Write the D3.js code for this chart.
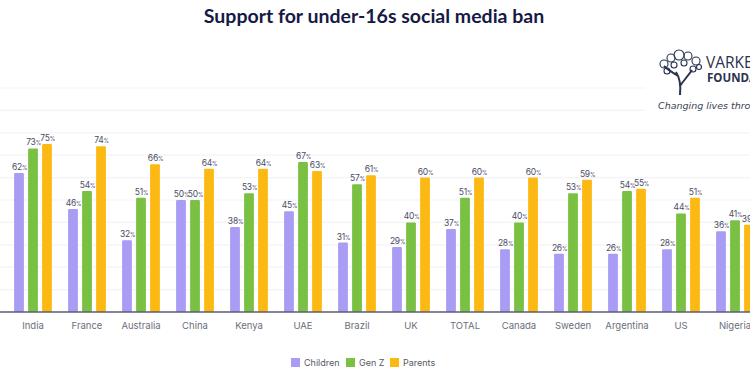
<!DOCTYPE html>
<html>
<head>
<meta charset="utf-8">
<script src="https://cdn.jsdelivr.net/npm/d3@7"></script>
<style>
  html, body { margin: 0; padding: 0; background: #ffffff; }
  svg { display: block; }
</style>
</head>
<body>
<svg id="chart" width="750" height="375"></svg>
<script>
const categories = ["India", "France", "Australia", "China", "Kenya", "UAE", "Brazil", "UK", "TOTAL", "Canada", "Sweden", "Argentina", "US", "Nigeria"];
const seriesNames = ["Children", "Gen Z", "Parents"];
const children = [62, 46, 32, 50, 38, 45, 31, 29, 37, 28, 26, 26, 28, 36];
const genZ     = [73, 54, 51, 50, 53, 67, 57, 40, 51, 40, 53, 54, 44, 41];
const parents  = [75, 74, 66, 64, 64, 63, 61, 60, 60, 60, 59, 55, 51, 39];
const yTicks = [0, 10, 20, 30, 40, 50, 60, 70, 80, 90, 100];
const colors = ["#a89cf4", "#7ac143", "#fdb913"];

const seriesValues = [children, genZ, parents];
const rows = categories.map((c, i) => ({
  cat: c,
  vals: seriesNames.map((s, j) => ({ key: s, value: seriesValues[j][i], color: colors[j] }))
}));

const svg = d3.select("#chart");

const x0 = d3.scaleBand().domain(categories).range([6, 762]).paddingInner(0).paddingOuter(0);
const x1 = d3.scaleBand().domain(seriesNames).range([-21, 21]).paddingInner(0.3).paddingOuter(0.15);
const y = d3.scaleLinear().domain([0, 100]).range([312, 88]);

// gridlines
svg.append("g")
  .selectAll("line")
  .data(yTicks.filter(t => t > 0))
  .join("line")
  .attr("x1", 0).attr("x2", 750)
  .attr("y1", d => y(d)).attr("y2", d => y(d))
  .attr("stroke", "#f4f4f6").attr("stroke-width", 1.2);

// title
svg.append("text")
  .attr("x", 374).attr("y", 23)
  .attr("text-anchor", "middle")
  .attr("font-family", "Lato, 'Open Sans', sans-serif")
  .attr("font-weight", 700)
  .attr("font-size", 19.5)
  .attr("fill", "#161a45")
  .text("Support for under-16s social media ban");

// bars
const groups = svg.append("g").selectAll("g")
  .data(rows)
  .join("g")
  .attr("transform", d => `translate(${x0(d.cat) + x0.bandwidth() / 2},0)`);

groups.selectAll("rect")
  .data(d => d.vals)
  .join("rect")
  .attr("x", d => x1(d.key))
  .attr("width", x1.bandwidth())
  .attr("y", d => y(d.value))
  .attr("height", d => y(0) - y(d.value))
  .attr("rx", 1)
  .attr("fill", d => d.color);

const labels = groups.selectAll("text.val")
  .data(d => d.vals)
  .join("text")
  .attr("class", "val")
  .attr("x", d => x1(d.key) + x1.bandwidth() / 2 + 0.5)
  .attr("y", d => y(d.value) - 3)
  .attr("text-anchor", "middle")
  .attr("font-family", "Inter, 'Open Sans', sans-serif")
  .attr("font-size", 8.5)
  .attr("letter-spacing", -0.2)
  .attr("fill", "#4a4c68");
labels.append("tspan").text(d => d.value);
labels.append("tspan").attr("font-size", 5.5).text("%");

// x axis
const xAxis = svg.append("g")
  .attr("transform", `translate(0,${y(0)})`)
  .call(d3.axisBottom(x0).tickSize(0).tickPadding(10));
xAxis.select(".domain").attr("d", "M0,0H750").attr("stroke", "#5a5c75").attr("stroke-width", 1.3);
xAxis.selectAll("text")
  .attr("font-family", "Inter, 'Open Sans', sans-serif")
  .attr("font-size", 9.5)
  .attr("fill", "#6a6e7c");

// legend
const legend = svg.append("g").attr("transform", "translate(291,358)");
const legX = [0, 55, 99];
seriesNames.forEach((s, i) => {
  const g = legend.append("g").attr("transform", `translate(${legX[i]},0)`);
  g.append("rect").attr("width", 9).attr("height", 9).attr("fill", colors[i]);
  g.append("text").attr("x", 13).attr("y", 8)
    .attr("font-family", "Inter, 'Open Sans', sans-serif")
    .attr("font-size", 9).attr("fill", "#555a66").text(s);
});

// logo (decorative)
const logo = svg.append("g");
logo.append("rect").attr("x", 645).attr("y", 45).attr("width", 105).attr("height", 70).attr("fill", "#ffffff");
const tree = logo.append("g").attr("stroke", "#2a3350").attr("fill", "none");
tree.append("path").attr("d", "M680,95 C681,85 680,78 676,72 M680,86 C684,80 688,76 692,70 M678,76 C672,72 668,70 664,66")
  .attr("stroke-width", 2);
[[664,64,4],[671,58,4],[679,55,5],[688,56,4],[696,61,4],[667,71,3],[693,69,3],[684,63,3],[674,65,3],[699,67,2.5]].forEach(c => {
  tree.append("circle").attr("cx", c[0]).attr("cy", c[1]).attr("r", c[2]).attr("stroke-width", 1.1);
});
logo.append("text").attr("x", 706).attr("y", 68)
  .attr("font-family", "'Open Sans', sans-serif").attr("font-size", 15.5)
  .attr("fill", "#2a3350").text("VARKEY");
logo.append("text").attr("x", 707).attr("y", 82)
  .attr("font-family", "'Open Sans', sans-serif").attr("font-weight", 700).attr("font-size", 11.5)
  .attr("fill", "#2a3350").text("FOUNDATION");
logo.append("text").attr("x", 658).attr("y", 109)
  .attr("font-family", "'DejaVu Sans', sans-serif").attr("font-style", "italic").attr("font-size", 9.5)
  .attr("fill", "#3a3f55").text("Changing lives through education");
</script>
</body>
</html>
